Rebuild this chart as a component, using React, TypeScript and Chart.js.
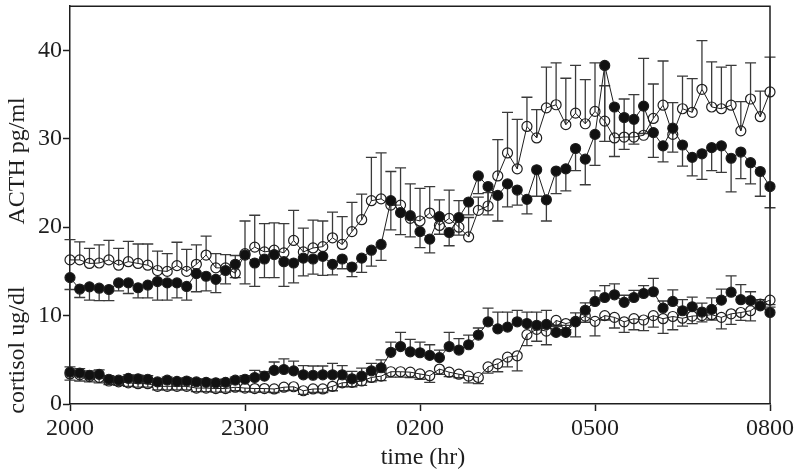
import { useEffect, useRef } from "react";
import { Chart, registerables } from "chart.js";

Chart.register(...registerables);

// Sampling times (every 10 min, 20:00 -> 08:00)
const times = [
  "2000", "2010", "2020", "2030", "2040", "2050",
  "2100", "2110", "2120", "2130", "2140", "2150",
  "2200", "2210", "2220", "2230", "2240", "2250",
  "2300", "2310", "2320", "2330", "2340", "2350",
  "0000", "0010", "0020", "0030", "0040", "0050",
  "0100", "0110", "0120", "0130", "0140", "0150",
  "0200", "0210", "0220", "0230", "0240", "0250",
  "0300", "0310", "0320", "0330", "0340", "0350",
  "0400", "0410", "0420", "0430", "0440", "0450",
  "0500", "0510", "0520", "0530", "0540", "0550",
  "0600", "0610", "0620", "0630", "0640", "0650",
  "0700", "0710", "0720", "0730", "0740", "0750",
  "0800",
];

const xTickLabels = ["2000", "2300", "0200", "0500", "0800"];
const yTickValues = [0, 10, 20, 30, 40];

const acthFilled = [
  14.3, 13.0, 13.25, 13.1, 12.95, 13.7, 13.7, 13.15, 13.45, 13.85, 13.7, 13.7, 13.3, 14.75, 14.45, 14.1, 15.1, 15.8, 16.85, 15.95,
  16.4, 16.9, 16.1, 15.95, 16.5, 16.4, 16.7, 15.8, 16.4, 15.5, 16.5, 17.4, 18.05, 23.0, 21.65, 21.3, 19.5, 18.65, 21.2, 19.4,
  21.1, 22.85, 25.8, 24.6, 23.6, 24.9, 24.2, 23.15, 26.5, 23.1, 26.35, 26.6, 28.9, 27.7, 30.5, 38.3, 33.6, 32.4, 32.2, 33.7,
  30.7, 29.2, 31.2, 29.3, 27.9, 28.3, 29.0, 29.2, 27.8, 28.5, 27.3, 26.3, 24.6,
];
const acthFilledErr = [
  1.35, 0.95, 1.5, 1.4, 1.25, 0.9, 1.2, 1.15, 1.45, 2.1, 1.95, 1.7, 1.55, 2.05, 1.65, 1.5, 1.5, 1.5, 3.25, 2.65,
  2.1, 2.6, 2.8, 2.25, 2.0, 1.7, 2.15, 1.2, 1.1, 1.1, 1.6, 1.8, 1.8, 3.3, 2.5, 2.4, 1.8, 1.55, 2.0, 1.5,
  2.0, 1.45, 2.0, 3.2, 2.9, 2.6, 1.7, 1.65, 3.0, 2.4, 2.55, 2.5, 2.5, 2.9, 3.5, 8.6, 5.6, 3.6, 2.8, 3.1,
  2.8, 1.8, 2.7, 2.4, 2.1, 2.9, 2.6, 3.0, 3.8, 3.0, 2.4, 2.8, 2.4,
];

const acthOpen = [
  16.3, 16.3, 15.9, 15.95, 16.3, 15.7, 16.1, 15.9, 15.7, 15.1, 15.0, 15.65, 15.0, 15.8, 16.85, 15.4, 15.4, 14.8, 17.0, 17.75,
  17.2, 17.4, 17.1, 18.5, 17.2, 17.65, 17.8, 18.8, 18.05, 19.5, 20.85, 23.0, 23.2, 22.5, 22.5, 21.0, 20.7, 21.6, 20.2, 21.0,
  20.0, 18.9, 21.9, 22.4, 25.8, 28.4, 26.6, 31.4, 30.1, 33.5, 33.85, 31.6, 32.9, 31.7, 33.1, 32.0, 30.1, 30.2, 30.2, 30.4,
  32.3, 33.8, 30.5, 33.4, 33.0, 35.6, 33.6, 33.4, 33.8, 30.9, 34.5, 32.5, 35.3,
];
const acthOpenErr = [
  2.3, 2.05, 1.7, 2.05, 2.2, 1.9, 2.3, 2.2, 2.4, 2.2, 2.0, 2.65, 2.5, 2.2, 2.15, 1.6, 1.5, 2.0, 3.7, 3.6,
  3.2, 3.1, 3.3, 3.4, 2.7, 3.15, 2.9, 2.9, 3.15, 3.3, 2.9, 4.9, 5.2, 3.8, 4.2, 3.9, 3.7, 3.0, 2.9, 3.2,
  3.0, 2.2, 1.5, 1.5, 4.1, 4.6, 5.6, 3.3, 3.2, 4.6, 4.75, 5.25, 5.4, 5.0, 5.5, 4.0, 3.5, 4.3, 4.8, 8.7,
  3.9, 5.0, 3.6, 3.7, 3.8, 5.5, 5.1, 4.7, 4.5, 3.3, 4.1, 2.9, 3.95,
];

const cortFilled = [
  3.6, 3.5, 3.25, 3.35, 2.8, 2.7, 2.9, 2.85, 2.8, 2.5, 2.7, 2.55, 2.6, 2.5, 2.45, 2.4, 2.45, 2.7, 2.8, 3.0,
  3.15, 3.8, 3.9, 3.75, 3.3, 3.25, 3.3, 3.3, 3.3, 2.85, 3.15, 3.75, 4.1, 5.85, 6.5, 5.9, 5.8, 5.5, 5.25, 6.5,
  6.1, 6.7, 7.8, 9.3, 8.5, 8.7, 9.3, 9.1, 8.9, 9.0, 8.1, 8.1, 9.3, 10.6, 11.6, 12.05, 12.35, 11.5, 12.05, 12.5,
  12.7, 10.85, 11.6, 10.55, 11.0, 10.4, 10.7, 11.75, 12.65, 11.8, 11.7, 11.1, 10.35,
];
const cortFilledErr = [
  0.6, 0.5, 0.5, 0.5, 0.4, 0.4, 0.4, 0.4, 0.4, 0.35, 0.35, 0.35, 0.35, 0.35, 0.35, 0.35, 0.35, 0.35, 0.4, 0.8,
  0.5, 0.95, 1.2, 1.1, 1.05, 1.05, 1.0, 1.3, 1.05, 0.85, 0.9, 0.85, 0.9, 1.15, 1.6, 1.4, 1.2, 1.2, 0.85, 1.6,
  1.3, 1.1, 0.8, 1.55, 1.9, 1.7, 1.3, 1.3, 1.5, 1.6, 0.8, 0.8, 1.0, 0.85, 1.2, 1.35, 1.25, 0.8, 0.8, 0.9,
  1.5, 0.8, 1.3, 1.25, 1.1, 1.0, 1.3, 1.25, 1.85, 1.7, 1.0, 0.7, 0.6,
];

const cortOpen = [
  3.4, 3.3, 3.1, 3.0, 2.6, 2.5, 2.4, 2.3, 2.3, 2.0, 2.0, 2.0, 2.0, 1.8, 1.8, 1.75, 1.75, 1.9, 1.8, 1.75,
  1.75, 1.7, 1.9, 1.95, 1.5, 1.7, 1.7, 2.0, 2.4, 2.45, 2.6, 3.0, 3.15, 3.65, 3.65, 3.6, 3.4, 3.2, 3.95, 3.6,
  3.37, 3.15, 3.0, 4.2, 4.55, 5.3, 5.45, 7.85, 8.45, 8.25, 9.45, 9.1, 9.35, 9.95, 9.35, 10.0, 9.8, 9.3, 9.65, 9.5,
  10.0, 9.65, 9.9, 9.7, 9.95, 10.0, 10.1, 9.8, 10.2, 10.35, 10.55, 11.3, 11.75,
];
const cortOpenErr = [
  0.7, 0.7, 0.6, 0.6, 0.4, 0.4, 0.4, 0.4, 0.4, 0.4, 0.4, 0.4, 0.4, 0.4, 0.4, 0.4, 0.4, 0.4, 0.4, 0.4,
  0.4, 0.4, 0.4, 0.4, 0.4, 0.4, 0.4, 0.5, 0.45, 0.5, 0.5, 0.5, 0.5, 0.6, 0.6, 0.6, 0.6, 0.75, 0.6, 0.5,
  0.4, 0.75, 0.7, 0.7, 0.9, 1.1, 1.7, 1.25, 1.35, 1.55, 0.7, 0.7, 1.75, 0.7, 1.65, 0.5, 1.2, 1.2, 1.25, 1.2,
  1.3, 1.65, 1.5, 0.9, 0.85, 0.7, 0.6, 1.3, 1.2, 0.9, 1.15, 0.5, 0.5,
];

const FONT = "'Liberation Serif', 'Times New Roman', serif";
const INK = "#1e1e1e";

const errorBarPlugin = {
  id: "errorBars",
  beforeDatasetsDraw(chart: any) {
    const ctx = chart.ctx;
    const xs = chart.scales.x;
    const ys = chart.scales.y;
    chart.data.datasets.forEach((ds: any) => {
      const err = ds.errors as number[] | undefined;
      if (!err) return;
      const dir = ds.errorDir as number;
      ctx.save();
      ctx.strokeStyle = "#3a3a3a";
      ctx.lineWidth = 1.3;
      ds.data.forEach((v: number, i: number) => {
        const px = xs.getPixelForValue(i);
        const p0 = ys.getPixelForValue(v);
        const p1 = ys.getPixelForValue(v + dir * err[i]);
        ctx.beginPath();
        ctx.moveTo(px, p0);
        ctx.lineTo(px, p1);
        ctx.moveTo(px - 5.5, p1);
        ctx.lineTo(px + 5.5, p1);
        ctx.stroke();
      });
      ctx.restore();
    });
  },
};

const framePlugin = {
  id: "frameAndTitles",
  afterDraw(chart: any) {
    const ctx = chart.ctx;
    const a = chart.chartArea;
    ctx.save();
    ctx.strokeStyle = INK;
    ctx.lineWidth = 1.5;
    ctx.beginPath();
    ctx.moveTo(a.left, a.top);
    ctx.lineTo(a.right, a.top);
    ctx.lineTo(a.right, a.bottom);
    ctx.stroke();

    ctx.fillStyle = INK;
    ctx.font = `24px ${FONT}`;
    ctx.textAlign = "center";
    ctx.textBaseline = "alphabetic";
    ctx.fillText("time (hr)", (a.left + a.right) / 2 + 3, 464);

    const yAt = (v: number) => chart.scales.y.getPixelForValue(v);
    ctx.save();
    ctx.translate(24, yAt(27.5));
    ctx.rotate(-Math.PI / 2);
    ctx.fillText("ACTH pg/ml", 0, 0);
    ctx.restore();
    ctx.save();
    ctx.translate(24, yAt(6.1));
    ctx.rotate(-Math.PI / 2);
    ctx.fillText("cortisol ug/dl", 0, 0);
    ctx.restore();
    ctx.restore();
  },
};

function makeDataset(label: string, data: number[], errors: number[], errorDir: number, filled: boolean) {
  return {
    label,
    data,
    errors,
    errorDir,
    borderColor: INK,
    borderWidth: 1,
    pointRadius: 5,
    pointBorderWidth: 1.2,
    pointBorderColor: INK,
    pointBackgroundColor: filled ? "#111111" : "rgba(0,0,0,0)",
    pointHoverRadius: 5,
    tension: 0,
    clip: false,
    fill: false,
  };
}

export default function App() {
  const canvasRef = useRef<HTMLCanvasElement | null>(null);

  useEffect(() => {
    document.body.style.margin = "0";
    const canvas = canvasRef.current;
    if (!canvas) return;
    const chart = new Chart(canvas, {
      type: "line",
      data: {
        labels: times,
        datasets: [
          makeDataset("ACTH (filled)", acthFilled, acthFilledErr, -1, true),
          makeDataset("cortisol (filled)", cortFilled, cortFilledErr, 1, true),
          makeDataset("ACTH (open)", acthOpen, acthOpenErr, 1, false),
          makeDataset("cortisol (open)", cortOpen, cortOpenErr, -1, false),
        ] as any,
      },
      options: {
        animation: false,
        responsive: false,
        maintainAspectRatio: false,
        layout: { padding: { top: 4, right: 30, left: 0, bottom: 0 } },
        plugins: { legend: { display: false }, tooltip: { enabled: false } },
        scales: {
          x: {
            type: "category",
            offset: false,
            afterFit: (s: any) => {
              s.height = 69;
            },
            grid: {
              drawOnChartArea: false,
              drawTicks: true,
              tickLength: 7,
              tickWidth: 1.5,
              tickColor: (c: any) =>
                xTickLabels.includes(times[c.index]) ? INK : "rgba(0,0,0,0)",
            },
            border: { display: true, color: INK, width: 1.5 },
            ticks: {
              autoSkip: false,
              maxRotation: 0,
              minRotation: 0,
              padding: 3,
              color: INK,
              font: { family: FONT, size: 24 },
              callback: (v: any) => (xTickLabels.includes(times[v]) ? times[v] : ""),
            },
          },
          y: {
            type: "linear",
            min: 0,
            max: 45,
            afterBuildTicks: (s: any) => {
              s.ticks = s.ticks.filter((t: any) => yTickValues.includes(t.value));
            },
            afterFit: (s: any) => {
              s.width = 70;
            },
            grid: {
              drawOnChartArea: false,
              drawTicks: true,
              tickLength: 7,
              tickWidth: 1.5,
              tickColor: INK,
            },
            border: { display: true, color: INK, width: 1.5 },
            ticks: {
              stepSize: 10,
              padding: 1,
              color: INK,
              font: { family: FONT, size: 24, lineHeight: 0.3 },
            },
          },
        },
      },
      plugins: [errorBarPlugin, framePlugin],
    });
    return () => chart.destroy();
  }, []);

  return (
    <div style={{ width: 800, height: 473, background: "#ffffff" }}>
      <canvas ref={canvasRef} width={800} height={473} style={{ display: "block" }} />
    </div>
  );
}
